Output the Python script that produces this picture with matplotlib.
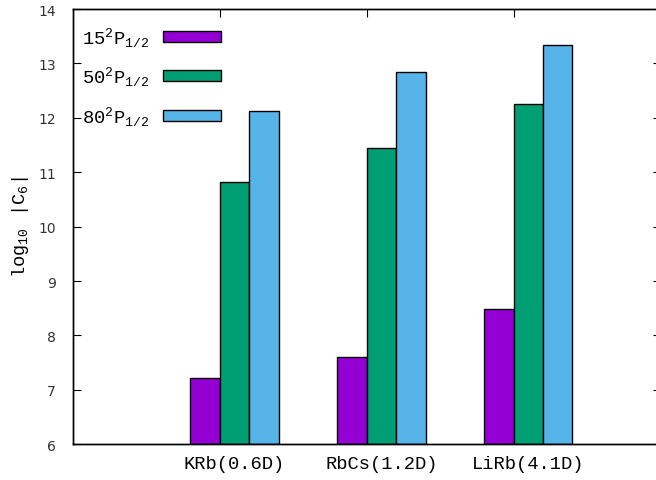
import matplotlib
matplotlib.use("Agg")
import matplotlib.pyplot as plt
import numpy as np

plt.rcParams['mathtext.fontset'] = 'custom'
plt.rcParams['mathtext.rm'] = 'Liberation Mono'
plt.rcParams['mathtext.it'] = 'Liberation Mono'

molecules = ['KRb(0.6D)', 'RbCs(1.2D)', 'LiRb(4.1D)']
states = [r'$\mathrm{15^2P_{1/2}}$', r'$\mathrm{50^2P_{1/2}}$', r'$\mathrm{80^2P_{1/2}}$']
n15 = [7.22, 7.60, 8.49]
n50 = [10.82, 11.44, 12.25]
n80 = [12.12, 12.84, 13.33]
colors = ['#9400D3', '#009E73', '#56B4E9']

fig = plt.figure(figsize=(6.56, 4.81), dpi=100)
ax = fig.add_axes([72.7/656, 1-445.3/481, 588/656, 435.3/481])

x = np.arange(len(molecules))
w = 0.2
for k, (vals, lab) in enumerate(zip([n15, n50, n80], states)):
    ax.bar(x + (k - 0.5)*w, np.array(vals) - 6, w, bottom=6, color=colors[k],
           edgecolor='black', linewidth=1, label=lab)

ax.set_xlim(-1, 3)
ax.set_ylim(6, 14)
ax.set_yticks(range(6, 15))
ax.set_xticks(x + 0.1)
ax.set_xticklabels(molecules, family='Liberation Mono', fontsize=13.5)
ax.tick_params(axis='x', length=0, pad=8)
ax.tick_params(axis='y', direction='in', length=6, right=True, labelsize=10,
               pad=12, labelcolor='#333333')
ax.set_ylabel(r'$\mathrm{log_{10}}$  $\mathrm{|C_6|}$', fontsize=13.5, labelpad=5)

# top ticks at the cluster positions
top = ax.twiny()
top.set_xlim(ax.get_xlim())
top.set_xticks(x)
top.set_xticklabels([])
top.tick_params(axis='x', direction='in', length=6)

for a in (ax, top):
    for s in a.spines.values():
        s.set_linewidth(1)

ax.legend(loc='upper left', bbox_to_anchor=(0.0, 0.985), frameon=False,
          markerfirst=False, fontsize=13.5, handlelength=3.1, handleheight=0.5,
          handletextpad=0.75, labelspacing=0.85, borderaxespad=0.2, borderpad=0.3)

fig.savefig('out.png', dpi=100)
